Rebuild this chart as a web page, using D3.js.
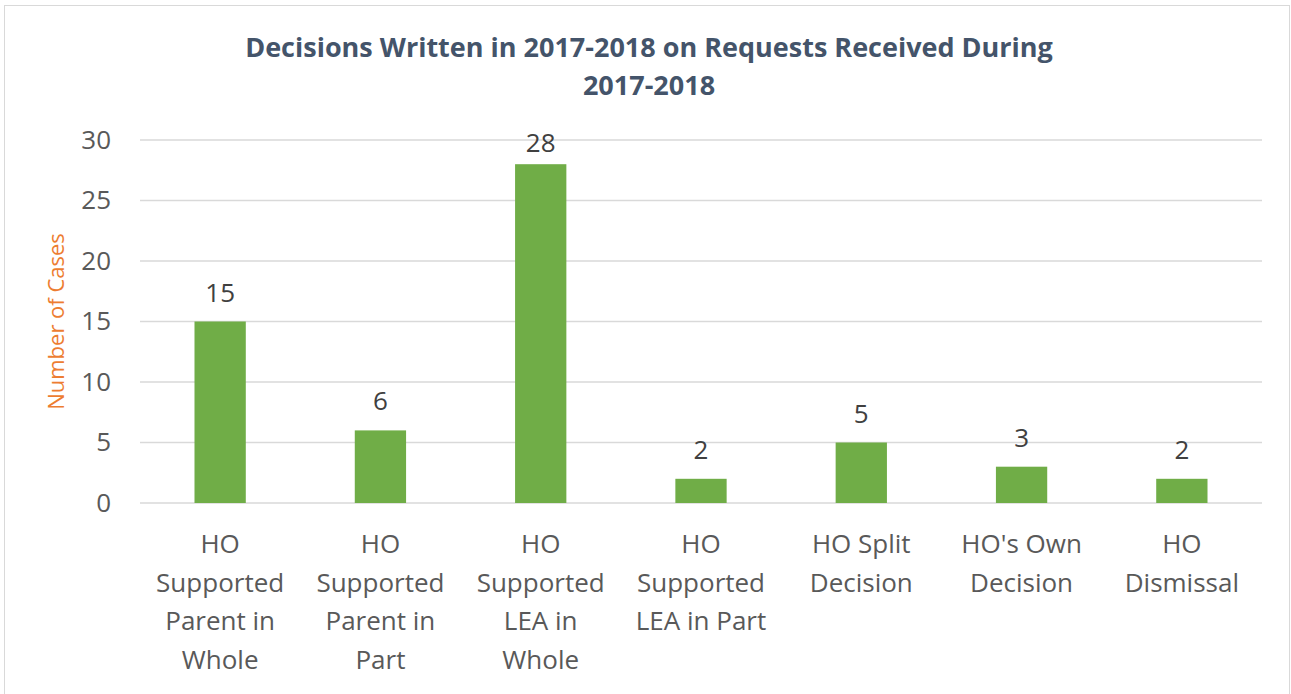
<!DOCTYPE html>
<html>
<head>
<meta charset="utf-8">
<script src="https://cdn.jsdelivr.net/npm/d3@7"></script>
<style>
  html, body { margin: 0; padding: 0; background: #fff; }
  svg text { font-family: "Open Sans", "Noto Sans", sans-serif; }
</style>
</head>
<body>
<svg id="chart" width="1291" height="694"></svg>
<script>
// Outcome categories (each label broken into its display lines)
const categories = [
  ["HO", "Supported", "Parent in", "Whole"],
  ["HO", "Supported", "Parent in", "Part"],
  ["HO", "Supported", "LEA in", "Whole"],
  ["HO", "Supported", "LEA in Part"],
  ["HO Split", "Decision"],
  ["HO's Own", "Decision"],
  ["HO", "Dismissal"]
];
const caseCounts = [15, 6, 28, 2, 5, 3, 2];
const yTicks = [0, 5, 10, 15, 20, 25, 30];
const titleLines = ["Decisions Written in 2017-2018 on Requests Received During", "2017-2018"];
const yAxisTitle = "Number of Cases";

const svg = d3.select("#chart");
const W = 1291, H = 694;
const plot = { left: 140, right: 1262, top: 140, bottom: 503 };

// chart frame
svg.append("rect")
  .attr("x", 4.5).attr("y", 5.5)
  .attr("width", W - 6).attr("height", H - 5)
  .attr("fill", "#fff").attr("stroke", "#d9d9d9").attr("stroke-width", 1);

const x = d3.scaleBand()
  .domain(d3.range(categories.length))
  .range([plot.left, plot.right])
  .paddingInner(0.68).paddingOuter(0.34);

const y = d3.scaleLinear().domain([0, 30]).range([plot.bottom, plot.top]);

// gridlines
svg.append("g")
  .selectAll("line")
  .data(yTicks)
  .join("line")
  .attr("x1", plot.left).attr("x2", plot.right)
  .attr("y1", d => y(d)).attr("y2", d => y(d))
  .attr("stroke", "#d9d9d9").attr("stroke-width", 1.5);

// y axis labels
const yAxis = d3.axisLeft(y).tickValues(yTicks).tickSize(0).tickPadding(0);
const yg = svg.append("g").attr("transform", `translate(111,0)`).call(yAxis);
yg.select(".domain").remove();
yg.selectAll("text")
  .attr("font-size", 26).attr("fill", "#595959")
  .attr("font-family", "'Open Sans', sans-serif");

// bars
svg.append("g")
  .selectAll("rect")
  .data(caseCounts)
  .join("rect")
  .attr("x", (d, i) => x(i))
  .attr("width", x.bandwidth())
  .attr("y", d => y(d))
  .attr("height", d => y(0) - y(d))
  .attr("fill", "#70ad47");

// value labels, kept inside the plot area
svg.append("g")
  .selectAll("text")
  .data(caseCounts)
  .join("text")
  .attr("x", (d, i) => x(i) + x.bandwidth() / 2)
  .attr("y", d => Math.max(y(d) - 20, plot.top + 12))
  .attr("text-anchor", "middle")
  .attr("font-size", 26).attr("fill", "#404040")
  .text(d => d);

// category labels
const cat = svg.append("g")
  .selectAll("text")
  .data(categories)
  .join("text")
  .attr("text-anchor", "middle")
  .attr("font-size", 26).attr("fill", "#595959");
cat.each(function (lines, i) {
  const cx = x(i) + x.bandwidth() / 2;
  d3.select(this).selectAll("tspan")
    .data(lines)
    .join("tspan")
    .attr("x", cx)
    .attr("y", (l, j) => 553 + j * 38.5)
    .text(l => l);
});

// title
svg.append("text")
  .attr("text-anchor", "middle")
  .attr("font-size", 27).attr("font-weight", "bold").attr("fill", "#44546a")
  .selectAll("tspan")
  .data(titleLines)
  .join("tspan")
  .attr("x", 649)
  .attr("y", (d, i) => 57 + i * 38)
  .text(d => d);

// y axis title
svg.append("text")
  .attr("transform", `translate(64,${(plot.top + plot.bottom) / 2}) rotate(-90)`)
  .attr("text-anchor", "middle")
  .attr("font-size", 22).attr("fill", "#ed7d31")
  .text(yAxisTitle);
</script>
</body>
</html>
